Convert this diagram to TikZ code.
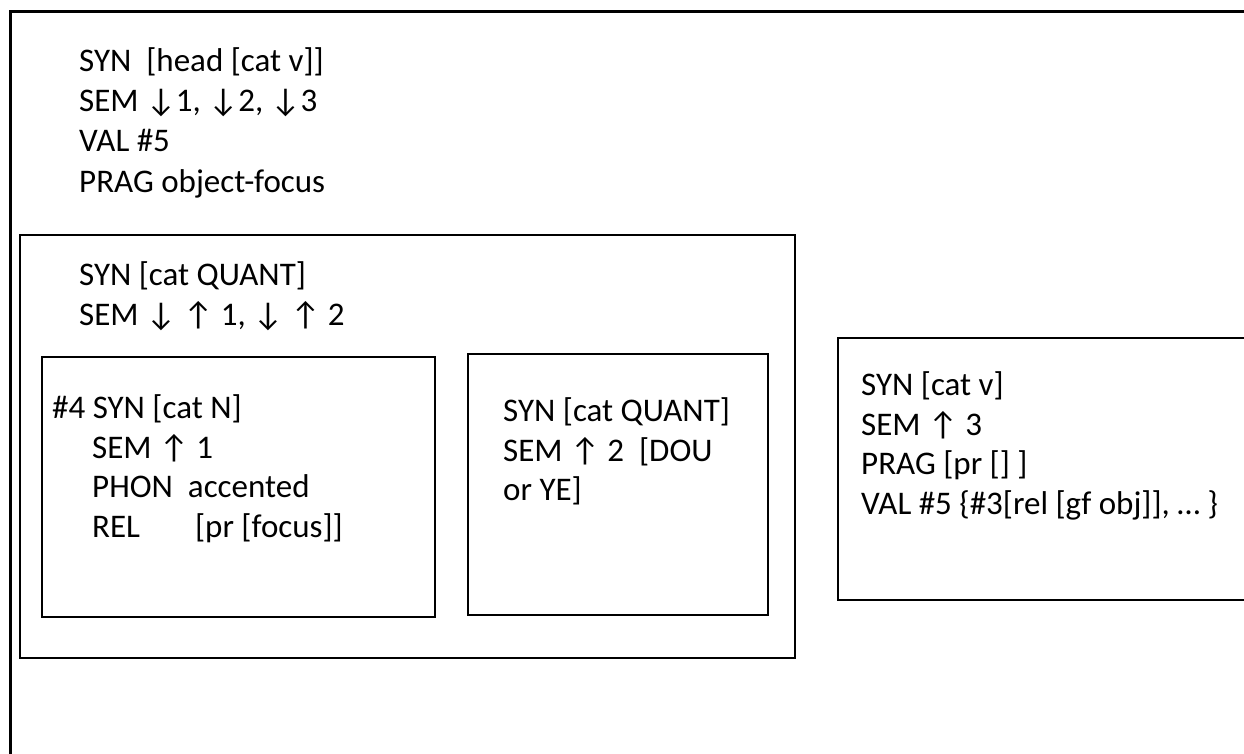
\documentclass[tikz,border=0pt]{standalone}
\usepackage{fontspec}
\setmainfont{Carlito}
\begin{document}
\begin{tikzpicture}[x=1pt,y=-1pt,
  frame/.style={draw=black, line width=2.6pt, anchor=north west, inner sep=0pt, outer sep=0pt},
  txt/.style={anchor=base west, inner sep=0pt, font=\fontsize{33}{40}\selectfont}]
\useasboundingbox (0,0) rectangle (1244,753);

% outer open frame (continues past the right and bottom edges)
\coordinate (outerBL) at (10,770);
\coordinate (outerTL) at (10,11);
\coordinate (outerTR) at (1260,11);
\draw[line width=3pt] (outerBL) -- (outerTL) -- (outerTR);

% boxes
\node[frame, minimum width=775pt, minimum height=423pt] (quant) at (20,235) {};
\node[frame, minimum width=393pt, minimum height=260pt] (noun) at (42,357) {};
\node[frame, minimum width=300pt, minimum height=261pt] (dou) at (468,354) {};
\node[frame, minimum width=430pt, minimum height=262pt] (verb) at (838,338) {};

% top-level feature structure
\node[txt] (t1) at (79,71) {SYN\ \ [head [cat v]]};
\node[txt] (t2) at (79,111) {SEM ↓1, ↓2, ↓3};
\node[txt] (t3) at (79,151) {VAL \#5};
\node[txt] (t4) at (79,192) {PRAG object-focus};

% quantifier phrase
\node[txt] (q1) at (79,285) {SYN [cat QUANT]};
\node[txt] (q2) at (79,325) {SEM ↓ ↑ 1, ↓ ↑ 2};

% noun
\node[txt] (n1) at (52,418) {\#4 SYN [cat N]};
\node[txt] (n2) at (92,458) {SEM ↑ 1};
\node[txt] (n3) at (92,497) {PHON\hspace{15pt}accented};
\node[txt] (n4) at (92,537) {REL\hspace{55pt}[pr [focus]]};

% quantifier
\node[txt] (d1) at (503,421) {SYN [cat QUANT]};
\node[txt] (d2) at (503,461) {SEM ↑ 2\ \ [DOU};
\node[txt] (d3) at (503,500) {or YE]};

% verb
\node[txt] (v1) at (861,395) {SYN [cat v]};
\node[txt] (v2) at (861,435) {SEM ↑ 3};
\node[txt] (v3) at (861,474) {PRAG [pr [] ]};
\node[txt] (v4) at (861,514) {VAL \#5 \{\#3[rel [gf obj]], … \}};
\end{tikzpicture}
\end{document}
